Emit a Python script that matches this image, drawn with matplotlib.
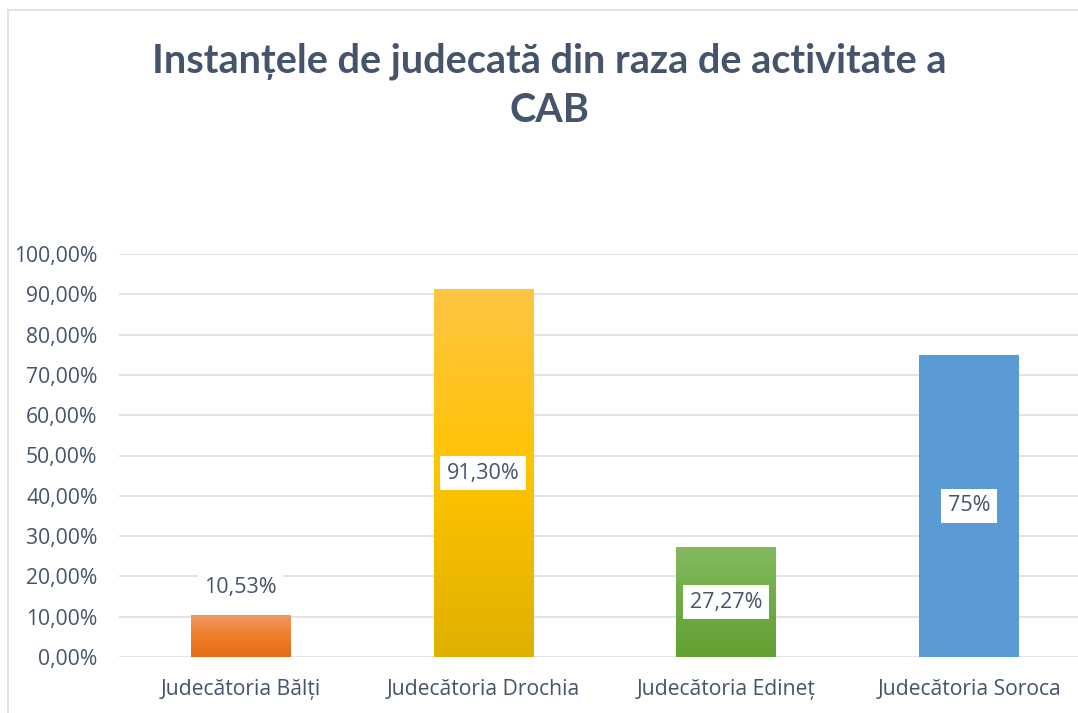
import numpy as np
import matplotlib
matplotlib.use("Agg")
import matplotlib.pyplot as plt
from matplotlib.colors import LinearSegmentedColormap

plt.rcParams["font.family"] = ["Open Sans", "DejaVu Sans"]

categories = ["Judecătoria Bălți", "Judecătoria Drochia", "Judecătoria Edineț", "Judecătoria Soroca"]
values = [10.53, 91.30, 27.27, 75.0]
value_labels = ["10,53%", "91,30%", "27,27%", "75%"]
yticks = [0, 10, 20, 30, 40, 50, 60, 70, 80, 90, 100]
ytick_labels = ["0,00%", "10,00%", "20,00%", "30,00%", "40,00%", "50,00%",
                "60,00%", "70,00%", "80,00%", "90,00%", "100,00%"]
title = "Instanțele de judecată din raza de activitate a\nCAB"

# gradient stops per bar (top, middle, bottom)
grads = [("#f29a66", "#f07f2c", "#e46a18"),
         ("#ffc544", "#ffc300", "#e0b000"),
         ("#84ba62", "#6fac44", "#62a032"),
         ("#5b9bd5", "#5b9bd5", "#5b9bd5")]
TXT = "#44546a"

W, H = 1078, 713
fig = plt.figure(figsize=(W / 100, H / 100), dpi=100)
ax = fig.add_axes([119 / W, 1 - 657 / H, (1090.5 - 119) / W, (657 - 254) / H])

x = np.arange(len(categories))
bars = ax.bar(x, values, width=0.41, color="none", zorder=2)
for b, (top, mid, bot) in zip(bars, grads):
    cmap = LinearSegmentedColormap.from_list("g", [bot, mid, top])
    grad = np.linspace(0, 1, 256).reshape(-1, 1)
    im = ax.imshow(grad, cmap=cmap, aspect="auto", origin="lower",
                   extent=[b.get_x(), b.get_x() + b.get_width(), 0, b.get_height()], zorder=2)
    im.set_clip_path(b)

for i, (v, lab) in enumerate(zip(values, value_labels)):
    y = v + 6.6 if v < 15 else v / 2
    ax.text(i, y, lab, ha="center", va="center", fontsize=15.5, color=TXT, zorder=4,
            bbox=dict(boxstyle="square,pad=0.3", fc="white", ec="none"))

ax.set_xlim(-0.5, len(categories) - 0.5)
ax.set_ylim(0, 100)
ax.set_yticks(yticks)
ax.set_yticklabels(ytick_labels)
ax.set_xticks(x)
ax.set_xticklabels(categories)
ax.tick_params(axis="both", length=0, labelsize=15.2, labelcolor=TXT)
ax.tick_params(axis="y", pad=15.5)
ax.tick_params(axis="x", pad=16)
ax.grid(axis="y", color="#dfe2e7", linewidth=1.3, zorder=0)
ax.set_axisbelow(True)
for s in ax.spines.values():
    s.set_visible(False)

fig.text(549 / W, 1 - 85.5 / H, title, ha="center", va="center", fontsize=28.5,
         fontweight="bold", color=TXT, linespacing=1.4, family=["Lato", "DejaVu Sans"])

# outer chart border (right and bottom are cropped in the reference)
fig.add_artist(plt.Line2D([8 / W, 8 / W], [0, 1 - 10 / H], color="#d9dde3", lw=1.2))
fig.add_artist(plt.Line2D([8 / W, 1], [1 - 10 / H, 1 - 10 / H], color="#d9dde3", lw=1.2))

fig.savefig("out.png", dpi=100)
